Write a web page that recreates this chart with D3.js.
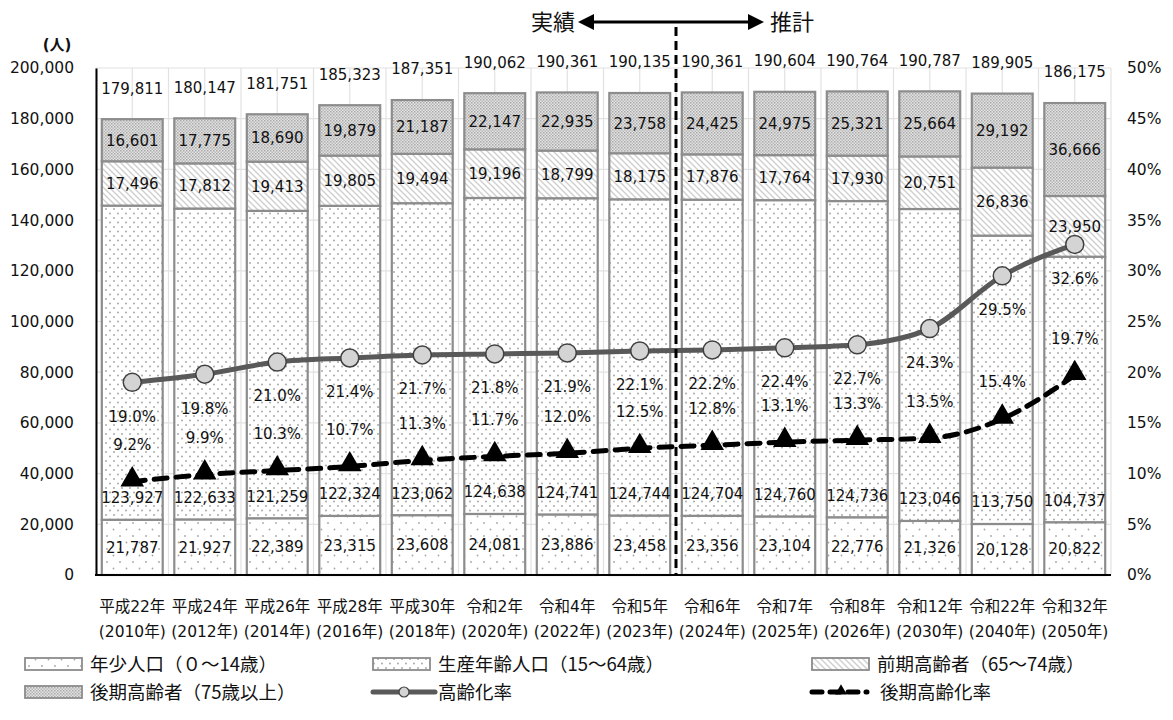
<!DOCTYPE html>
<html>
<head>
<meta charset="utf-8">
<script src="https://cdn.jsdelivr.net/npm/d3@7"></script>
<style>
  body { margin: 0; background: #fff; }
  text { font-family: "DejaVu Sans", "Noto Sans CJK JP", sans-serif; fill: #111; }
  .cjk { font-family: "Noto Sans CJK JP", "DejaVu Sans", sans-serif; }
</style>
</head>
<body>
<svg id="chart" width="1173" height="720"></svg>
<script>
// Population by age group and ageing rates, actual and projected
const eraLabels = ["平成22年","平成24年","平成26年","平成28年","平成30年","令和2年","令和4年","令和5年","令和6年","令和7年","令和8年","令和12年","令和22年","令和32年"];
const yearLabels = ["(2010年)","(2012年)","(2014年)","(2016年)","(2018年)","(2020年)","(2022年)","(2023年)","(2024年)","(2025年)","(2026年)","(2030年)","(2040年)","(2050年)"];

const youth   = [21787,21927,22389,23315,23608,24081,23886,23458,23356,23104,22776,21326,20128,20822];
const working = [123927,122633,121259,122324,123062,124638,124741,124744,124704,124760,124736,123046,113750,104737];
const early   = [17496,17812,19413,19805,19494,19196,18799,18175,17876,17764,17930,20751,26836,23950];
const late    = [16601,17775,18690,19879,21187,22147,22935,23758,24425,24975,25321,25664,29192,36666];
const totals  = [179811,180147,181751,185323,187351,190062,190361,190135,190361,190604,190764,190787,189905,186175];

const agingRate     = [19.0,19.8,21.0,21.4,21.7,21.8,21.9,22.1,22.2,22.4,22.7,24.3,29.5,32.6];
const lateAgingRate = [9.2,9.9,10.3,10.7,11.3,11.7,12.0,12.5,12.8,13.1,13.3,13.5,15.4,19.7];

const leftTicks  = [0,20000,40000,60000,80000,100000,120000,140000,160000,180000,200000];
const rightTicks = [0,5,10,15,20,25,30,35,40,45,50];

const seriesNames = ["年少人口（０～14歳）","生産年齢人口（15～64歳）","前期高齢者（65～74歳）","後期高齢者（75歳以上）"];
const lineNames = ["高齢化率","後期高齢化率"];
const actualLabel = "実績";
const projectedLabel = "推計";
const unitLabel = "(人)";
const firstProjected = 8; // 令和6年 starts the projection

const svg = d3.select("#chart");
const plot = { left: 96, right: 1111, top: 68, bottom: 575 };

const idx = d3.range(eraLabels.length);
const x = d3.scaleBand().domain(idx).range([plot.left, plot.right]).paddingInner(0.16).paddingOuter(0.08);
const y = d3.scaleLinear().domain([0, 200000]).range([plot.bottom, plot.top]);
const yR = d3.scaleLinear().domain([0, 50]).range([plot.bottom, plot.top]);
const step = x.step();
const fmt = d3.format(",");

// ---- patterns ----
const defs = svg.append("defs");
const pYouth = defs.append("pattern").attr("id","pYouth").attr("patternUnits","userSpaceOnUse").attr("width",13).attr("height",13);
pYouth.append("circle").attr("cx",3).attr("cy",3).attr("r",0.9).attr("fill","#a6a6a6");
pYouth.append("circle").attr("cx",9.5).attr("cy",9.5).attr("r",0.9).attr("fill","#a6a6a6");

const pWork = defs.append("pattern").attr("id","pWork").attr("patternUnits","userSpaceOnUse").attr("width",8).attr("height",9);
pWork.append("circle").attr("cx",2).attr("cy",2).attr("r",1).attr("fill","#a9a9a9");
pWork.append("circle").attr("cx",6).attr("cy",6.5).attr("r",1).attr("fill","#a9a9a9");

const pEarly = defs.append("pattern").attr("id","pEarly").attr("patternUnits","userSpaceOnUse").attr("width",6).attr("height",6);
pEarly.append("path").attr("d","M-1,-1 L7,7 M-4,2 L4,10 M2,-4 L10,4").attr("stroke","#cfcfcf").attr("stroke-width",1.4);

const pLate = defs.append("pattern").attr("id","pLate").attr("patternUnits","userSpaceOnUse").attr("width",3).attr("height",3);
pLate.append("rect").attr("width",3).attr("height",3).attr("fill","#e4e4e4");
pLate.append("rect").attr("width",1.5).attr("height",1.5).attr("fill","#a8a8a8");
pLate.append("rect").attr("x",1.5).attr("y",1.5).attr("width",1.5).attr("height",1.5).attr("fill","#b8b8b8");

const fills = ["url(#pYouth)","url(#pWork)","url(#pEarly)","url(#pLate)"];

// ---- gridlines ----
const grid = svg.append("g").attr("stroke","#e2e2e2").attr("stroke-width",1.2);
grid.selectAll("line.h").data(leftTicks.slice(1)).join("line")
  .attr("x1",plot.left).attr("x2",plot.right)
  .attr("y1",d=>y(d)).attr("y2",d=>y(d));
const vLines = [];
idx.forEach(i => { vLines.push(plot.left + i*step); vLines.push(plot.left + (i+0.5)*step); });
vLines.push(plot.right);
grid.selectAll("line.v").data(vLines).join("line")
  .attr("x1",d=>d).attr("x2",d=>d).attr("y1",plot.top).attr("y2",plot.bottom);

// ---- stacked bars ----
const table = idx.map(i => ({ i, youth: youth[i], working: working[i], early: early[i], late: late[i] }));
const stack = d3.stack().keys(["youth","working","early","late"])(table);

const barG = svg.append("g");
stack.forEach((layer, k) => {
  barG.append("g").selectAll("rect").data(layer).join("rect")
    .attr("x", d => x(d.data.i))
    .attr("width", x.bandwidth())
    .attr("y", d => y(d[1]))
    .attr("height", d => y(d[0]) - y(d[1]))
    .attr("fill", "#fff");
  barG.append("g").selectAll("rect").data(layer).join("rect")
    .attr("x", d => x(d.data.i))
    .attr("width", x.bandwidth())
    .attr("y", d => y(d[1]))
    .attr("height", d => y(d[0]) - y(d[1]))
    .attr("fill", fills[k])
    .attr("stroke", "#8c8c8c").attr("stroke-width", 2.2);
});

// ---- axes ----
const axisL = svg.append("g").attr("transform",`translate(${plot.left},0)`)
  .call(d3.axisLeft(y).tickValues(leftTicks).tickFormat(fmt).tickSize(0).tickPadding(22));
axisL.select(".domain").attr("stroke","#000").attr("stroke-width",2);
axisL.selectAll("text").style("font-size","15.5px");

const axisR = svg.append("g").attr("transform",`translate(${plot.right},0)`)
  .call(d3.axisRight(yR).tickValues(rightTicks).tickFormat(d => d + "%").tickSize(0).tickPadding(16));
axisR.select(".domain").remove();
axisR.selectAll("text").style("font-size","15.5px");

svg.append("line").attr("x1",plot.left-1).attr("x2",plot.right).attr("y1",plot.bottom).attr("y2",plot.bottom)
  .attr("stroke","#000").attr("stroke-width",2);

// category labels
const xl = svg.append("g");
idx.forEach(i => {
  const cx = x(i) + x.bandwidth()/2;
  xl.append("text").attr("x",cx).attr("y",612).attr("text-anchor","middle").style("font-size","15.5px").text(eraLabels[i]);
  xl.append("text").attr("x",cx).attr("y",637).attr("text-anchor","middle").style("font-size","15.5px").text(yearLabels[i]);
});

svg.append("text").attr("x",57).attr("y",50).attr("text-anchor","middle")
  .style("font-size","15px").style("font-weight","bold").text(unitLabel);

// ---- segment value labels ----
const lab = svg.append("g").style("font-size","15px").attr("text-anchor","middle");
const cxOf = i => x(i) + x.bandwidth()/2;
idx.forEach(i => {
  const s0 = youth[i], s1 = s0 + working[i], s2 = s1 + early[i], s3 = s2 + late[i];
  lab.append("text").attr("x",cxOf(i)).attr("y",(y(0)+y(s0))/2).attr("dy","0.36em").text(fmt(youth[i]));
  lab.append("text").attr("x",cxOf(i)).attr("y",y(s0)-22).attr("dy","0.36em").text(fmt(working[i]));
  lab.append("text").attr("x",cxOf(i)).attr("y",(y(s1)+y(s2))/2).attr("dy","0.36em").text(fmt(early[i]));
  lab.append("text").attr("x",cxOf(i)).attr("y",(y(s2)+y(s3))/2).attr("dy","0.36em").text(fmt(late[i]));
  lab.append("text").attr("x",cxOf(i)).attr("y",Math.max(y(totals[i]) - 31, plot.top - 18)).attr("dy","0.36em").text(fmt(totals[i]));
});

// ---- rate lines ----
const rateLine = d3.line().x((d,i) => cxOf(i)).y(d => yR(d)).curve(d3.curveMonotoneX);

svg.append("path").datum(lateAgingRate).attr("d",rateLine).attr("fill","none")
  .attr("stroke","#000").attr("stroke-width",5).attr("stroke-dasharray","13,9").attr("stroke-linecap","round");
svg.append("g").selectAll("path").data(lateAgingRate).join("path")
  .attr("d", d3.symbol().type(d3.symbolTriangle).size(240))
  .attr("transform",(d,i) => `translate(${cxOf(i)},${yR(d) - 2})`)
  .attr("fill","#000");

svg.append("path").datum(agingRate).attr("d",rateLine).attr("fill","none")
  .attr("stroke","#595959").attr("stroke-width",5);
svg.append("g").selectAll("circle").data(agingRate).join("circle")
  .attr("cx",(d,i) => cxOf(i)).attr("cy",d => yR(d)).attr("r",9)
  .attr("fill","#d4d4d4").attr("stroke","#404040").attr("stroke-width",1.5);

const rateLab = svg.append("g").style("font-size","15px").attr("text-anchor","middle");
idx.forEach(i => {
  rateLab.append("text").attr("x",cxOf(i)).attr("y",yR(agingRate[i]) + 34).attr("dy","0.36em").text(agingRate[i].toFixed(1) + "%");
  rateLab.append("text").attr("x",cxOf(i)).attr("y",yR(lateAgingRate[i]) - 37).attr("dy","0.36em").text(lateAgingRate[i].toFixed(1) + "%");
});

// ---- actual / projection divider ----
const divX = plot.left + firstProjected * step;
svg.append("line").attr("x1",divX).attr("x2",divX).attr("y1",27).attr("y2",plot.bottom)
  .attr("stroke","#000").attr("stroke-width",3).attr("stroke-dasharray","9,5");

const arrowY = 22;
svg.append("line").attr("x1",divX - 86).attr("x2",divX + 76).attr("y1",arrowY).attr("y2",arrowY)
  .attr("stroke","#000").attr("stroke-width",3);
svg.append("path").attr("d",`M${divX-98},${arrowY} L${divX-82},${arrowY-8} L${divX-82},${arrowY+8} Z`).attr("fill","#000");
svg.append("path").attr("d",`M${divX+88},${arrowY} L${divX+72},${arrowY-8} L${divX+72},${arrowY+8} Z`).attr("fill","#000");
svg.append("text").attr("class","cjk").attr("x",divX-101).attr("y",arrowY).attr("dy","0.36em").attr("text-anchor","end")
  .style("font-size","22px").text(actualLabel);
svg.append("text").attr("class","cjk").attr("x",divX+94).attr("y",arrowY).attr("dy","0.36em").attr("text-anchor","start")
  .style("font-size","22px").text(projectedLabel);

// ---- legend ----
const legend = svg.append("g").attr("class","cjk").style("font-size","18.5px");
const legCols = [25, 373, 812];
const legRows = [664, 692];
const boxItems = [
  { name: seriesNames[0], fill: fills[0], col: 0, row: 0 },
  { name: seriesNames[1], fill: fills[1], col: 1, row: 0 },
  { name: seriesNames[2], fill: fills[2], col: 2, row: 0 },
  { name: seriesNames[3], fill: fills[3], col: 0, row: 1 }
];
boxItems.forEach(it => {
  const lx = legCols[it.col], ly = legRows[it.row];
  legend.append("rect").attr("x",lx).attr("y",ly-6).attr("width",57).attr("height",12).attr("fill","#fff");
  legend.append("rect").attr("x",lx).attr("y",ly-6).attr("width",57).attr("height",12)
    .attr("fill",it.fill).attr("stroke","#8c8c8c").attr("stroke-width",1.8);
  legend.append("text").attr("class","cjk").attr("x",lx+65).attr("y",ly).attr("dy","0.36em").text(it.name);
});
{
  const lx = legCols[1], ly = legRows[1];
  legend.append("line").attr("x1",lx).attr("x2",lx+62).attr("y1",ly).attr("y2",ly)
    .attr("stroke","#595959").attr("stroke-width",5).attr("stroke-linecap","round");
  legend.append("circle").attr("cx",lx+31).attr("cy",ly).attr("r",5).attr("fill","#d4d4d4").attr("stroke","#404040").attr("stroke-width",1.2);
  legend.append("text").attr("class","cjk").attr("x",lx+65).attr("y",ly).attr("dy","0.36em").text(lineNames[0]);
}
{
  const lx = legCols[2], ly = legRows[1];
  legend.append("line").attr("x1",lx).attr("x2",lx+55).attr("y1",ly).attr("y2",ly)
    .attr("stroke","#000").attr("stroke-width",5).attr("stroke-dasharray","10,8").attr("stroke-linecap","round");
  legend.append("path").attr("d",d3.symbol().type(d3.symbolTriangle).size(60)).attr("transform",`translate(${lx+29},${ly-1})`).attr("fill","#000");
  legend.append("text").attr("class","cjk").attr("x",lx+68).attr("y",ly).attr("dy","0.36em").text(lineNames[1]);
}
</script>
</body>
</html>
